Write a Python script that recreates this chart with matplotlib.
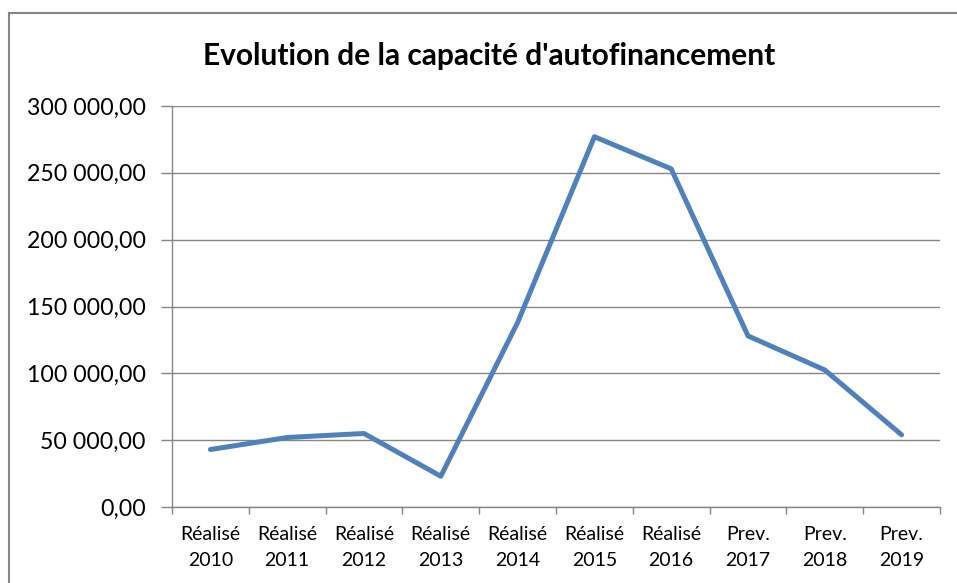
import matplotlib.pyplot as plt
from matplotlib.patches import Rectangle
from matplotlib.ticker import FixedLocator, FuncFormatter

categories = ["Réalisé\n2010", "Réalisé\n2011", "Réalisé\n2012", "Réalisé\n2013", "Réalisé\n2014",
              "Réalisé\n2015", "Réalisé\n2016", "Prev.\n2017", "Prev.\n2018", "Prev.\n2019"]
caf = [43000, 52000, 55000, 23000, 138000, 277000, 253000, 128000, 102500, 54000]
yticks = [0, 50000, 100000, 150000, 200000, 250000, 300000]

plt.rcParams['font.family'] = ['Lato', 'DejaVu Sans']

fig = plt.figure(figsize=(9.57, 5.83), dpi=100)
ax = fig.add_axes([172/957, 1-507/583, (940-172)/957, (507-106)/583])

grey = "#868686"
x = list(range(len(categories)))
ax.plot(x, caf, color="#4F81BD", lw=3.6, solid_capstyle='round', solid_joinstyle='round')

ax.set_xlim(-0.5, len(categories)-0.5)
ax.set_ylim(0, 300000)
ax.set_yticks(yticks)
ax.yaxis.set_major_formatter(FuncFormatter(lambda v, p: f"{int(v):,}".replace(",", " ") + ",00"))
ax.grid(axis='y', color=grey, lw=1)
ax.set_axisbelow(True)

ax.set_xticks(x)
ax.set_xticklabels(categories, fontsize=14, linespacing=1.6)
ax.xaxis.set_minor_locator(FixedLocator([i-0.5 for i in range(len(categories)+1)]))
ax.tick_params(axis='x', which='major', length=0, pad=14)
ax.tick_params(axis='x', which='minor', length=5, color=grey, width=1)
ax.tick_params(axis='y', length=8, color=grey, width=1, labelsize=16.7, pad=11)

for s in ['top', 'right']:
    ax.spines[s].set_visible(False)
for s in ['left', 'bottom']:
    ax.spines[s].set_color(grey)
    ax.spines[s].set_linewidth(1)

fig.text(489/957, 1-56/583, "Evolution de la capacité d'autofinancement",
         ha='center', va='center', fontsize=21.5, fontweight='bold')

fig.patches.append(Rectangle((9/957, -0.1), 2, 1.1-13/583, transform=fig.transFigure,
                             fill=False, edgecolor=grey, lw=1.5, clip_on=False))

fig.savefig("out.png", dpi=100)
